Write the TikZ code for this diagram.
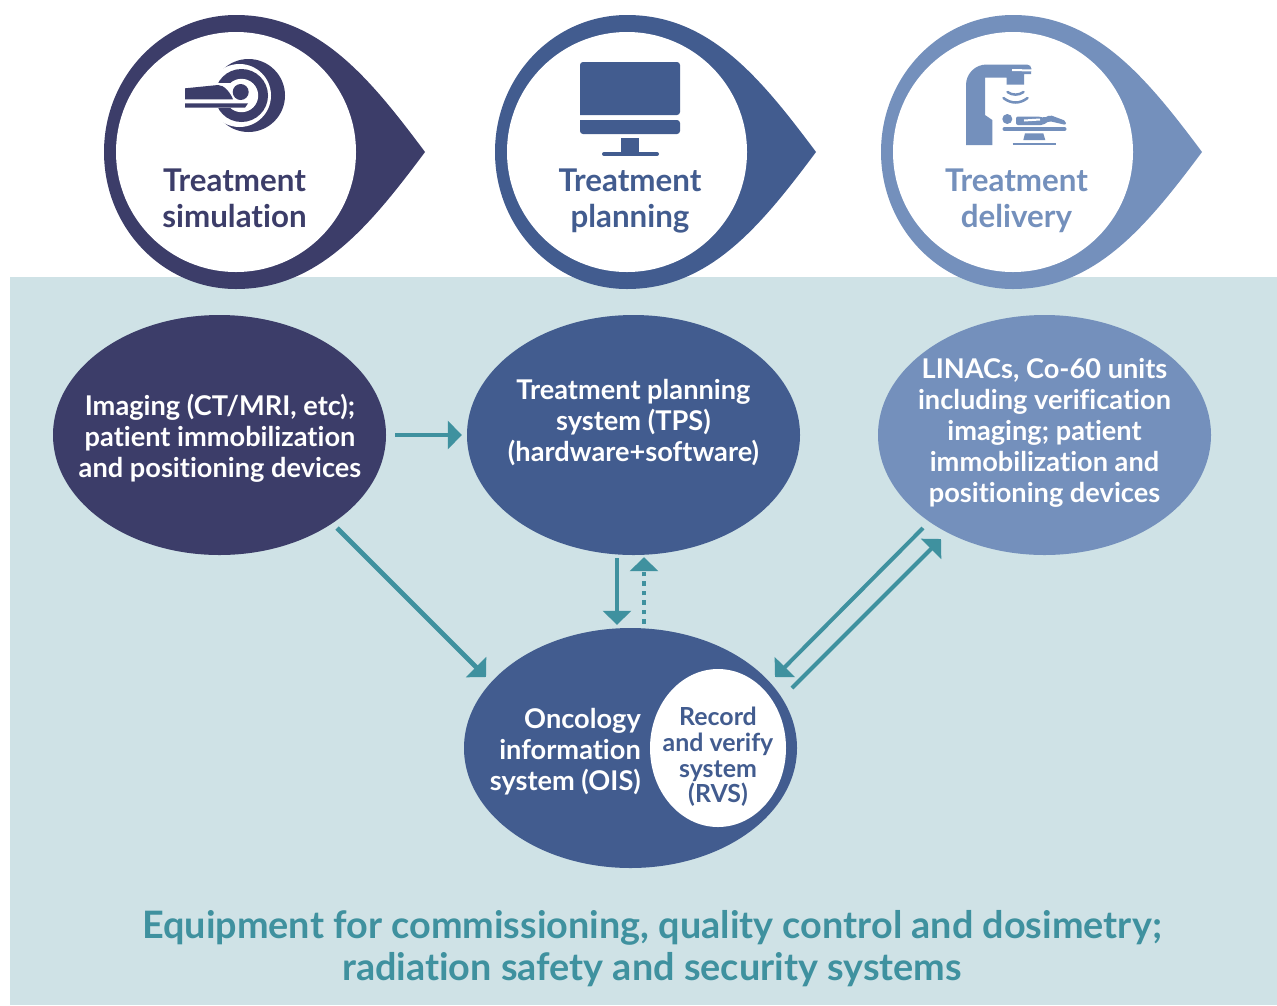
\documentclass[tikz,border=0pt]{standalone}
\usepackage{fontspec}
\setmainfont[Ligatures=NoCommon]{Lato}
\usetikzlibrary{arrows.meta,shapes.geometric}
\definecolor{navy}{HTML}{3C3D69}
\definecolor{steel}{HTML}{425C8F}
\definecolor{sky}{HTML}{7490BC}
\definecolor{teal}{HTML}{3F919F}
\definecolor{wash}{HTML}{CFE2E6}
\tikzset{
    bubble/.style={ellipse,minimum width=333pt,minimum height=240pt,inner sep=0pt},
    bubbletext/.style={align=center,text=white,inner sep=0pt,font=\fontsize{27.2}{31}\selectfont\bfseries},
    heading/.style={align=center,inner sep=0pt,font=\fontsize{31.3}{36}\selectfont\bfseries},
    conn/.style={teal,line width=4.7pt,-{Triangle[width=28pt,length=14pt]}},
    drop/.pic={
        \fill (189,0) .. controls (133,-75) and (82,-137) .. (0,-137) .. controls (-73,-137) and (-132,-76) .. (-132,0) .. controls (-132,76) and (-73,137) .. (0,137) .. controls (82,137) and (133,75) .. (189,0) -- cycle ;
        \fill[white] (0,0) circle (120) ;
    }
}
\begin{document}
\begin{tikzpicture}[x=1pt,y=-1pt]
    \useasboundingbox (0,0) rectangle (1277,1005) ;
    \fill[wash] (10,277) rectangle (1277,1005) ;

    \pic[color=navy] at (236,152) {drop} ;
    \pic[color=steel] at (627,152) {drop} ;
    \pic[color=sky] at (1013,152) {drop} ;

    % scanner
    \fill[navy] (248.5,95.5) circle (36.5) ;
    \fill[white] (239.5,95.5) circle (31.5) ;
    \fill[navy] (241.5,95.5) circle (26.5) ;
    \fill[white] (241.5,95.5) circle (16.7) ;
    \fill[white] (200,83) rectangle (232,108) ;
    \fill[navy] (240.7,92) circle (8) ;
    \fill[navy] (185,88.3) -- (218,85) .. controls (224,85) and (230,92) .. (233,99.3) -- (185,99.3) -- cycle ;
    \fill[navy] (185,103.3) -- (248,103.3) -- (245,107.7) -- (185,107.7) -- cycle ;

    % monitor
    \fill[steel,rounded corners=3pt] (580,115) -- (580,62) -- (680,62) -- (680,115) [sharp corners] -- cycle ;
    \fill[steel,rounded corners=3pt] (580,120) -- (580,134) -- (680,134) -- (680,120) [sharp corners] -- cycle ;
    \fill[steel] (620.7,138) rectangle (639.3,153) ;
    \draw[steel,line width=4pt,line cap=round] (604,154) -- (657,154) ;

    % linac
    \fill[sky] (966,145) -- (966,85) arc (180:270:20.5) -- (1027,64.5) arc (-90:0:4.5) -- (1031,74) -- (1024,74) -- (1024,84.5) -- (1006.7,84.5) -- (1006.7,77.5) -- (985,77.5) -- (985,115) -- (992.3,120) -- (992.3,145) -- cycle ;
    \draw[white,line width=2pt] (1012,70) -- (1032,70.5) ;
    \draw[sky,line width=2.5pt,line cap=round] (1007.5,92) .. controls (1012,95.5) and (1019,95.5) .. (1023.5,92) ;
    \draw[sky,line width=2.5pt,line cap=round] (1003.5,98) .. controls (1011,104) and (1020,104) .. (1027.5,98) ;
    \fill[sky] (1007.3,119) circle (5) ;
    \fill[sky,rounded corners=2pt] (1016,116.5) -- (1040,116.5) -- (1044,118) -- (1050,115) -- (1066,121) -- (1066,125) -- (1049,121) -- (1043,125) -- (1016,125) -- cycle ;
    \draw[white,line width=2pt] (1024,120.5) -- (1040,119.5) ;
    \draw[sky,line width=4pt,line cap=round] (1004.5,129) -- (1064.5,129) ;
    \fill[sky] (1025,133.3) -- (1043.3,133.3) -- (1045.3,140) -- (1023.3,140) -- cycle ;
    \draw[sky,line width=1.5pt] (1012.7,144) -- (1056,144) ;

    \node[heading,text=navy] (simulation) at (234.5,198) {Treatment\\simulation} ;
    \node[heading,text=steel] (planning) at (630,201) {Treatment\\planning} ;
    \node[heading,text=sky] (delivery) at (1016.5,201) {Treatment\\delivery} ;

    \node[bubble,fill=navy] (imaging) at (219.5,435) {} ;
    \node[bubble,fill=steel] (tps) at (633.5,435) {} ;
    \node[bubble,fill=sky] (linac) at (1044.5,435) {} ;
    \node[bubble,fill=steel] (ois) at (630.5,748) {} ;
    \node[ellipse,fill=white,minimum width=136pt,minimum height=158pt,inner sep=0pt] (rvs) at (718,748) {} ;

    \node[bubbletext] (imagingtext) at (220,438) {Imaging (CT/MRI, etc);\\patient immobilization\\and positioning devices} ;
    \node[bubbletext] (tpstext) at (633.5,423) {Treatment planning\\system (TPS)\\(hardware+software)} ;
    \node[bubbletext] (linactext) at (1044.5,433) {LINACs, Co-60 units\\including verification\\imaging; patient\\immobilization and\\positioning devices} ;
    \node[bubbletext,align=right,anchor=east] (oistext) at (641,752) {Oncology\\information\\system (OIS)} ;
    \node[align=center,inner sep=0pt,text=steel,font=\fontsize{24.9}{25.7}\selectfont\bfseries] (rvstext) at (718,757) {Record\\and verify\\system\\(RVS)} ;

    \draw[conn] ([xshift=9pt]imaging.east) -- ([xshift=-5pt]tps.west) ;
    \draw[conn] ([shift={(117.5,93)}]imaging.center) -- ([shift={(-144.5,-71)}]ois.center) ;
    \draw[conn] ([shift={(-16.5,3)}]tps.south) -- ([shift={(-13.5,-3)}]ois.north) ;
    \draw[conn,dash pattern=on 4.7pt off 4.8pt] ([shift={(13.5,-4)}]ois.north) -- ([shift={(10.5,2)}]tps.south) ;
    \draw[conn,line width=4pt] ([shift={(-121.5,93)}]linac.center) -- ([shift={(144.5,-71)}]ois.center) ;
    \draw[conn,line width=4pt] ([shift={(161.5,-60)}]ois.center) -- ([shift={(-103.5,104)}]linac.center) ;

    \node[align=center,inner sep=0pt,text=teal,font=\fontsize{37.8}{42}\selectfont\bfseries] (equipment) at (652,949) {Equipment for commissioning, quality control and dosimetry;\\radiation safety and security systems} ;
\end{tikzpicture}
\end{document}
